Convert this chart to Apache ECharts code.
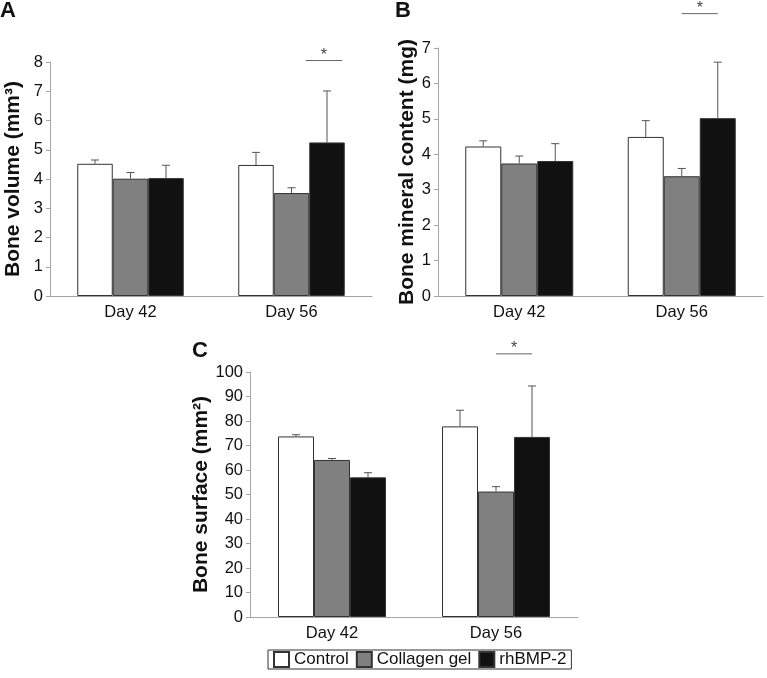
<!DOCTYPE html>
<html>
<head>
<meta charset="utf-8">
<script src="https://cdn.jsdelivr.net/npm/echarts@6/dist/echarts.min.js"></script>
<style>
html,body{margin:0;padding:0;background:#fff;}
#chart{width:767px;height:678px;}
</style>
</head>
<body>
<div id="chart"></div>
<script>
const categories = ['Day 42', 'Day 56'];
const groupNames = ['Control', 'Collagen gel', 'rhBMP-2'];

// A - bone volume (mm3)
const volControl = [4.52, 4.48];
const volControlErr = [0.13, 0.43];
const volCollagen = [4.01, 3.52];
const volCollagenErr = [0.21, 0.18];
const volBmp = [4.03, 5.25];
const volBmpErr = [0.44, 1.76];

// B - bone mineral content (mg)
const bmcControl = [4.22, 4.49];
const bmcControlErr = [0.16, 0.46];
const bmcCollagen = [3.74, 3.38];
const bmcCollagenErr = [0.21, 0.22];
const bmcBmp = [3.81, 5.02];
const bmcBmpErr = [0.49, 1.58];

// C - bone surface (mm2)
const bsControl = [73.7, 77.8];
const bsControlErr = [0.7, 6.6];
const bsCollagen = [64.1, 51.2];
const bsCollagenErr = [0.6, 2.0];
const bsBmp = [57.0, 73.5];
const bsBmpErr = [1.9, 20.8];

const barColors = ['#ffffff', '#808080', '#111111'];
const font = 'Liberation Sans, Arial, sans-serif';

let chart = echarts.init(document.getElementById('chart'));

function errData(means, errs){
    // [category index, mean, err, group]
    let out = [];
    means.forEach((m, g) => {
        m.forEach((v, c) => out.push([c, v, errs[g][c], g]));
    });
    return out;
}

function errRender(barW){
    return function(params, api){
        let c = api.value(0), v = api.value(1), e = api.value(2), g = api.value(3);
        let base = api.coord([c, v]);
        let top = api.coord([c, v + e]);
        let x = base[0] + (g - 1) * barW;
        return {
            type: 'group',
            children: [
                {type: 'line', shape: {x1: x, y1: base[1], x2: x, y2: top[1]}, style: {stroke: '#555', lineWidth: 1}},
                {type: 'line', shape: {x1: x - 4, y1: top[1], x2: x + 4, y2: top[1]}, style: {stroke: '#555', lineWidth: 1}}
            ]
        };
    };
}

function sigRender(barW){
    return function(params, api){
        let c = api.value(0), y = api.value(1), g1 = api.value(2), g2 = api.value(3);
        let p = api.coord([c, y]);
        let x1 = p[0] + (g1 - 1) * barW, x2 = p[0] + (g2 - 1) * barW;
        return {
            type: 'group',
            children: [
                {type: 'line', shape: {x1: x1, y1: p[1], x2: x2, y2: p[1]}, style: {stroke: '#666', lineWidth: 1}},
                {type: 'text', x: (x1 + x2) / 2, y: p[1] - 13, style: {text: '*', fill: '#444', font: '16px ' + font, align: 'center', verticalAlign: 'top'}}
            ]
        };
    };
}

// significance: [category, y value, from group, to group]
const sigA = [[1, 8.05, 1.4, 2.43]];
const sigB = [[1, 7.97, 1, 2]];
const sigC = [[1, 107.4, 1, 2]];

const panels = [
    {means: [volControl, volCollagen, volBmp], errs: [volControlErr, volCollagenErr, volBmpErr], sig: sigA, barW: 35.5},
    {means: [bmcControl, bmcCollagen, bmcBmp], errs: [bmcControlErr, bmcCollagenErr, bmcBmpErr], sig: sigB, barW: 36},
    {means: [bsControl, bsCollagen, bsBmp], errs: [bsControlErr, bsCollagenErr, bsBmpErr], sig: sigC, barW: 36}
];

let series = [];
panels.forEach((p, i) => {
    p.means.forEach((m, g) => {
        series.push({
            name: groupNames[g],
            type: 'bar',
            xAxisIndex: i,
            yAxisIndex: i,
            barWidth: p.barW,
            barGap: '0%',
            itemStyle: {color: barColors[g], borderColor: '#333', borderWidth: 1},
            data: m
        });
    });
    series.push({
        type: 'custom',
        xAxisIndex: i,
        yAxisIndex: i,
        renderItem: errRender(p.barW),
        data: errData(p.means, p.errs),
        z: 5,
        silent: true
    });
    series.push({
        type: 'custom',
        xAxisIndex: i,
        yAxisIndex: i,
        renderItem: sigRender(p.barW),
        data: p.sig,
        clip: false,
        z: 5,
        silent: true
    });
});

function xAx(i){
    return {
        type: 'category',
        gridIndex: i,
        data: categories,
        axisLine: {lineStyle: {color: '#a6a6a6'}},
        axisTick: {show: false},
        axisLabel: {color: '#111', fontSize: 16.5, fontFamily: font, margin: 8}
    };
}
function yAx(i, max, interval, name, gap){
    return {
        type: 'value',
        gridIndex: i,
        min: 0,
        max: max,
        interval: interval,
        name: name,
        nameLocation: 'middle',
        nameGap: gap,
        nameTextStyle: {color: '#111', fontSize: 21, fontWeight: 'bold', fontFamily: font},
        axisLine: {show: true, lineStyle: {color: '#a6a6a6'}},
        axisTick: {show: true, length: 4, lineStyle: {color: '#a6a6a6'}},
        axisLabel: {color: '#111', fontSize: 16.5, fontFamily: font, margin: 7},
        splitLine: {show: false}
    };
}

let option = {
    animation: false,
    backgroundColor: '#fff',
    grid: [
        {left: 50, top: 62, width: 322, height: 234},
        {left: 438, top: 48, width: 325, height: 248},
        {left: 250, top: 372, width: 328, height: 245}
    ],
    xAxis: [xAx(0), xAx(1), xAx(2)],
    yAxis: [
        yAx(0, 8, 1, 'Bone volume (mm³)', 26),
        yAx(1, 7, 1, 'Bone mineral content (mg)', 20),
        yAx(2, 100, 10, 'Bone surface (mm²)', 34)
    ],
    legend: {
        data: groupNames,
        left: 268,
        top: 650,
        icon: 'rect',
        itemWidth: 15,
        itemHeight: 15,
        itemGap: 7,
        padding: [1, 5],
        borderColor: '#333',
        borderWidth: 1,
        borderRadius: 0,
        textStyle: {color: '#111', fontSize: 17, fontFamily: font}
    },
    graphic: [
        {type: 'text', left: 0, top: 0, style: {text: 'A', fill: '#111', font: 'bold 22px ' + font}},
        {type: 'text', left: 395, top: 0, style: {text: 'B', fill: '#111', font: 'bold 22px ' + font}},
        {type: 'text', left: 192, top: 340, style: {text: 'C', fill: '#111', font: 'bold 22px ' + font}}
    ],
    series: series
};

chart.setOption(option);
window.onresize = function(){
    chart.resize();
};
</script>
</body>
</html>
